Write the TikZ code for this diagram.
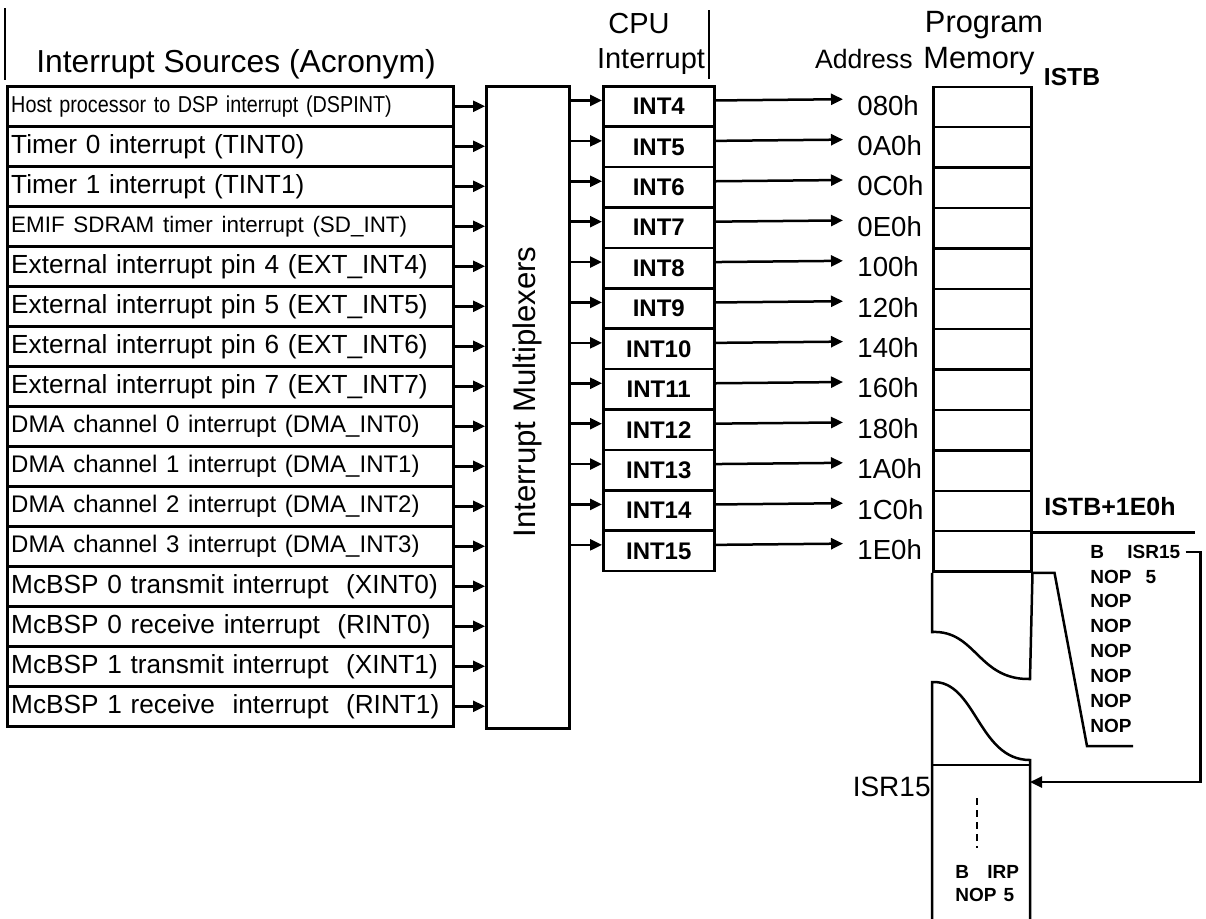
\documentclass[tikz,border=0pt]{standalone}
\usepackage{fontspec}
\setmainfont{Liberation Sans}
\usetikzlibrary{arrows.meta,calc}
\newcommand\fs[1]{\fontsize{#1pt}{#1pt}\selectfont}
\tikzset{
  every node/.style={inner sep=0pt},
  wire/.style={line width=1.25pt},
  box/.style={draw, wire, rectangle},
  src/.style={box, anchor=north west, minimum width=223pt, minimum height=20pt,
              text width=219pt, align=left, inner xsep=2pt, font=\fs{13.1}},
  intbox/.style={box, anchor=north west, minimum width=55.5pt, minimum height=20.2pt,
                 font=\bfseries\fs{12}},
  memrow/.style={box, anchor=north west, minimum width=49pt, minimum height=20.2pt},
  addr/.style={anchor=west, inner xsep=7pt, font=\fs{13.8}},
  code/.style={anchor=west, font=\bfseries\fs{9.5}},
  arr/.style={wire, -{Triangle[length=6pt,width=5.5pt]}},
}
\begin{document}
\begin{tikzpicture}[x=0.5pt, y=-0.5pt]
\useasboundingbox (0,0) rectangle (1206,918);
\clip (0,0) rectangle (1206,918);

% column headings
\draw[wire] (5,8) -- (5,80);
\node[anchor=base, font=\fs{15.9}] (srctitle) at (236,72) {Interrupt Sources (Acronym)};
\node[anchor=base, font=\fs{14.5}] (cpu) at (639,33) {CPU};
\node[anchor=base, font=\fs{14.5}] (cpuint) at (651,68) {Interrupt};
\draw[wire] (709,10) -- (709,79);
\node[anchor=base, font=\fs{15.4}] (prog) at (984,32) {Program};
\node[anchor=base, font=\fs{15.4}] (mem) at (979,68) {Memory};
\node[anchor=base east, font=\fs{13.3}] (addrhead) at (913,68) {Address};
\node[anchor=base, font=\bfseries\fs{12.3}] (istb) at (1072,85) {ISTB};

% interrupt sources
\node[src] (s1) at (6,85) {\fs{11.5}\scalebox{0.86}[1]{Host processor to DSP interrupt (DSPINT)}};
\node[src] (s2) at (6,125) {Timer 0 interrupt (TINT0)};
\node[src] (s3) at (6,165) {Timer 1 interrupt (TINT1)};
\node[src] (s4) at (6,205) {\fs{11.2}EMIF SDRAM timer interrupt (SD\_INT)};
\node[src] (s5) at (6,245) {External interrupt pin 4 (EXT\_INT4)};
\node[src] (s6) at (6,285) {External interrupt pin 5 (EXT\_INT5)};
\node[src] (s7) at (6,325) {External interrupt pin 6 (EXT\_INT6)};
\node[src] (s8) at (6,365) {External interrupt pin 7 (EXT\_INT7)};
\node[src] (s9) at (6,405) {\fs{12}DMA channel 0 interrupt (DMA\_INT0)};
\node[src] (s10) at (6,445) {\fs{12}DMA channel 1 interrupt (DMA\_INT1)};
\node[src] (s11) at (6,485) {\fs{12}DMA channel 2 interrupt (DMA\_INT2)};
\node[src] (s12) at (6,525) {\fs{12}DMA channel 3 interrupt (DMA\_INT3)};
\node[src] (s13) at (6,565) {McBSP 0 transmit interrupt\ \ (XINT0)};
\node[src] (s14) at (6,605) {McBSP 0 receive interrupt\ \ (RINT0)};
\node[src] (s15) at (6,645) {McBSP 1 transmit interrupt\ \ (XINT1)};
\node[src] (s16) at (6,685) {McBSP 1 receive\ \ interrupt\ \ (RINT1)};

% multiplexer block
\node[box, anchor=north west, minimum width=41.5pt, minimum height=321pt] (mux) at (485,85) {};
\node[rotate=90, font=\fs{15.6}] (muxlabel) at (527,392) {Interrupt Multiplexers};
\foreach \k in {1,...,16} {
  \draw[arr] (s\k.east) -- (s\k.east -| mux.west);
}

% CPU interrupts, vector addresses and the fetch-packet table
\foreach \n/\ad [count=\k from 0] in {4/080h,5/0A0h,6/0C0h,7/0E0h,8/100h,9/120h,
                                      10/140h,11/160h,12/180h,13/1A0h,14/1C0h,15/1E0h} {
  \node[intbox] (i\n) at (602,{85+40.4*\k}) {INT\n};
  \node[memrow] (m\n) at (932,{85.5+40.4*\k}) {};
  \node[addr] (a\n) at (843,{105.2+40.4*\k}) {\ad};
  \draw[arr] ($(i\n.west -| mux.east)+(0,-6)$) -- ($(i\n.west)+(0,-6)$);
  \draw[arr] ($(i\n.east)+(0,-6)$) -- ($(a\n.west)+(0,-6)$);
}

% memory continues below the table, broken off
\draw[wire] (m15.south west) -- (932,632)
  .. controls (976,630) and (978,680) .. (1030,679) -- (m15.south east);
\draw[wire] (932,930) -- (932,682)
  .. controls (976,680) and (978,760) .. (1030,760) -- (1030,930);

% ISTB + 1E0h marker
\draw[wire] (m14.south east) -- ++(162,0);
\node[font=\bfseries\fs{12.5}] (istbx) at (1110,507) {ISTB+1E0h};

% expanded fetch packet
\draw[wire] (m15.south east) -- ++(22,0) -- (1087,746) -- (1133,746);
\node[code] (c1) at (1090,552) {\makebox[18.5pt][l]{B}ISR15};
\node[code] (c2) at (1090,577) {NOP\hspace{7pt}5};
\node[code] (c3) at (1090,601) {NOP};
\node[code] (c4) at (1090,626) {NOP};
\node[code] (c5) at (1090,651) {NOP};
\node[code] (c6) at (1090,676) {NOP};
\node[code] (c7) at (1090,701) {NOP};
\node[code] (c8) at (1090,726) {NOP};

% interrupt service routine
\draw[wire] (932,765) -- (1030,765);
\node[anchor=east, font=\fs{14}] (isrlabel) at (931,787) {ISR15};
\coordinate (isrin) at (1030,782);
\draw[arr] ($(c1.east)+(5,0)$) -- ++(15,0) |- (isrin);
\draw[wire, dash pattern=on 3.5pt off 2.5pt] (977,798) -- (977,848);
\node[code] (r1) at (955,872) {\makebox[16pt][l]{B}IRP};
\node[code] (r2) at (955,895) {NOP\hspace{3.5pt}5};
\end{tikzpicture}
\end{document}
